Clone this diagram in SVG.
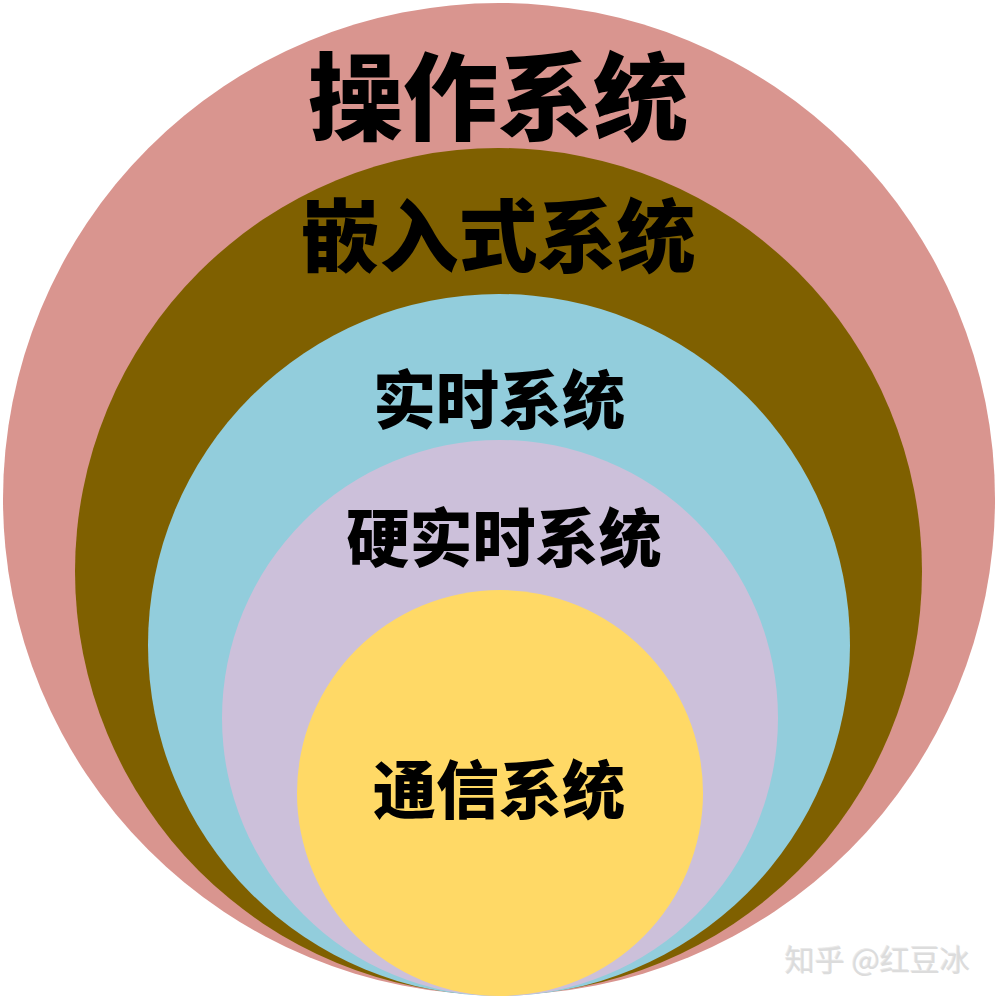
<svg xmlns="http://www.w3.org/2000/svg" width="998" height="998" viewBox="0 0 998 998">
<style>
.t{font-family:"Noto Sans CJK SC","Noto Sans CJK JP",sans-serif;font-weight:900;fill:#000;text-anchor:middle}
.w{font-family:"Noto Sans CJK SC",sans-serif;font-weight:400;font-size:30px;fill:#dcdcdc}
</style>
<rect width="998" height="998" fill="#ffffff"/>
<g id="os"><circle cx="499" cy="499" r="496" fill="#D9958F"/><text class="t" x="498" y="133" font-size="95">操作系统</text></g>
<g id="embedded"><circle cx="498.5" cy="571.5" r="423.5" fill="#7F6000"/><text class="t" x="498" y="266" font-size="79">嵌入式系统</text></g>
<g id="realtime"><circle cx="499" cy="645" r="351" fill="#92CDDC"/><text class="t" x="499" y="423" font-size="63">实时系统</text></g>
<g id="hardrt"><circle cx="500" cy="718" r="278" fill="#CCC0DA"/><text class="t" x="504" y="561" font-size="63">硬实时系统</text></g>
<g id="comm"><circle cx="500" cy="793" r="203" fill="#FFD966"/><text class="t" x="499" y="813" font-size="63">通信系统</text></g>
<g id="watermark"><text class="w" x="785" y="971" fill="#b5b5b5" opacity="0.6" transform="translate(-1,-1)">知乎 @红豆冰</text><text class="w" x="785" y="971">知乎 @红豆冰</text></g>
<g id="connectors"/>
</svg>
